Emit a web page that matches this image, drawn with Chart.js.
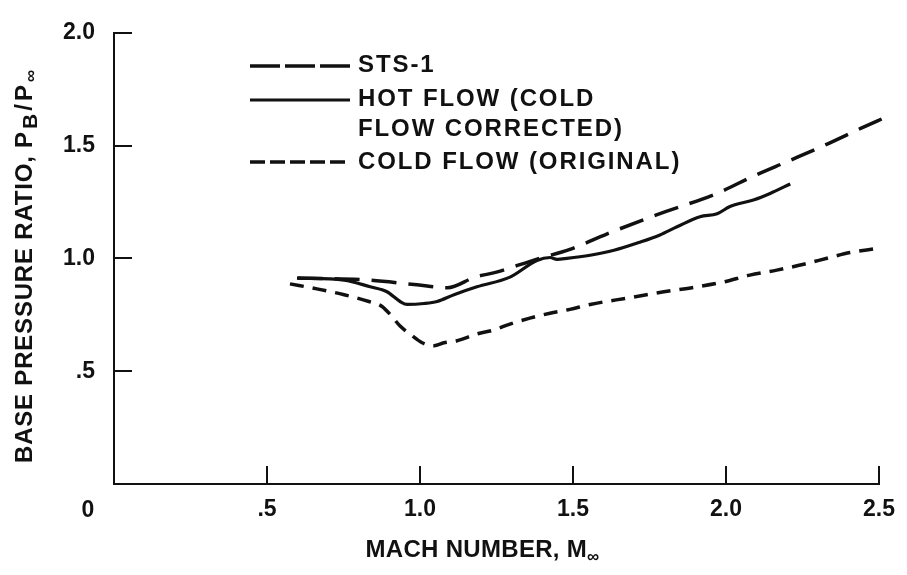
<!DOCTYPE html>
<html>
<head>
<meta charset="utf-8">
<script src="https://cdn.jsdelivr.net/npm/chart.js@4.4.1/dist/chart.umd.min.js"></script>
<style>
  html, body { margin: 0; padding: 0; background: #ffffff; }
  #wrap { width: 907px; height: 575px; position: relative; }
</style>
</head>
<body>
<div id="wrap"><canvas id="c" width="907" height="575"></canvas></div>
<script>
// Base pressure ratio vs. free-stream Mach number
const machSts1  = [0.60, 0.83, 0.99, 1.09, 1.18, 1.25, 1.38, 1.49, 1.61, 1.775, 1.97, 2.09, 2.205, 2.32, 2.44, 2.52];
const ratioSts1 = [0.913, 0.904, 0.883, 0.870, 0.917, 0.939, 0.996, 1.04, 1.108, 1.194, 1.288, 1.365, 1.432, 1.50, 1.576, 1.625];

const machHot  = [0.598, 0.752, 0.837, 0.892, 0.935, 0.958, 1.013, 1.056, 1.111, 1.186, 1.294, 1.382, 1.425, 1.448, 1.48, 1.556, 1.634, 1.719, 1.784, 1.84, 1.915, 1.971, 2.013, 2.092, 2.144, 2.21];
const ratioHot = [0.913, 0.904, 0.874, 0.852, 0.809, 0.796, 0.800, 0.809, 0.839, 0.874, 0.917, 0.991, 1.004, 0.996, 1.000, 1.014, 1.036, 1.072, 1.104, 1.14, 1.185, 1.198, 1.23, 1.26, 1.288, 1.33];

const machCold  = [0.575, 0.663, 0.752, 0.833, 0.876, 0.908, 0.935, 0.967, 1.007, 1.046, 1.078, 1.121, 1.186, 1.242, 1.294, 1.359, 1.425, 1.490, 1.556, 1.686, 1.797, 1.905, 1.993, 2.078, 2.166, 2.254, 2.339, 2.405, 2.487];
const ratioCold = [0.887, 0.865, 0.839, 0.809, 0.787, 0.743, 0.700, 0.665, 0.626, 0.613, 0.626, 0.635, 0.665, 0.683, 0.709, 0.735, 0.757, 0.774, 0.796, 0.826, 0.852, 0.874, 0.896, 0.926, 0.948, 0.974, 1.004, 1.026, 1.043];

const xTickValues = [0, 0.5, 1.0, 1.5, 2.0, 2.5];
const xTickLabels = ['0', '.5', '1.0', '1.5', '2.0', '2.5'];
const yTickValues = [0, 0.5, 1.0, 1.5, 2.0];
const yTickLabels = ['', '.5', '1.0', '1.5', '2.0'];

const seriesNames = [['STS-1'], ['HOT FLOW (COLD', 'FLOW CORRECTED)'], ['COLD FLOW (ORIGINAL)']];

const INK = '#111111';
const FONT = '"Liberation Sans", Arial, Helvetica, sans-serif';
const WEIGHT = 'bold';

function pairs(xs, ys) { return xs.map((x, i) => ({ x: x, y: ys[i] })); }

const dashSts = [25, 12];
const dashCold = [14, 9];

// draws a run of text pieces (with optional subscripts) starting at x,y (baseline middle)
function drawRuns(ctx, runs, x, y, spacing) {
  ctx.save();
  ctx.textBaseline = 'middle';
  ctx.textAlign = 'left';
  let cx = x;
  runs.forEach(r => {
    ctx.letterSpacing = (r.ls !== undefined ? r.ls : spacing) + 'px';
    ctx.font = WEIGHT + ' ' + r.size + 'px ' + FONT;
    ctx.fillText(r.text, cx, y + (r.dy || 0));
    cx += ctx.measureText(r.text).width;
  });
  ctx.restore();
  return cx - x;
}
function runsWidth(ctx, runs, spacing) {
  ctx.save();
  let w = 0;
  runs.forEach(r => {
    ctx.letterSpacing = (r.ls !== undefined ? r.ls : spacing) + 'px';
    ctx.font = WEIGHT + ' ' + r.size + 'px ' + FONT;
    w += ctx.measureText(r.text).width;
  });
  ctx.restore();
  return w;
}

const decorPlugin = {
  id: 'decor',
  afterDraw(chart) {
    const ctx = chart.ctx;
    const xs = chart.scales.x, ys = chart.scales.y;
    const area = chart.chartArea;
    ctx.save();
    ctx.strokeStyle = INK;
    ctx.fillStyle = INK;
    ctx.lineWidth = 2;
    ctx.lineCap = 'butt';
    // inward tick marks
    const TL = 18;
    xTickValues.forEach(v => {
      if (v === 0) return;
      const px = Math.round(xs.getPixelForValue(v));
      ctx.beginPath(); ctx.moveTo(px, area.bottom); ctx.lineTo(px, area.bottom - TL); ctx.stroke();
    });
    yTickValues.forEach(v => {
      if (v === 0) return;
      const py = Math.round(ys.getPixelForValue(v));
      ctx.beginPath(); ctx.moveTo(area.left, py); ctx.lineTo(area.left + TL, py); ctx.stroke();
    });

    // shared origin label
    ctx.font = WEIGHT + ' 23px ' + FONT;
    ctx.textAlign = 'center';
    ctx.textBaseline = 'middle';
    ctx.fillText(xTickLabels[0], xs.getPixelForValue(0) - 26, area.bottom + 27);

    // x-axis title
    const xRuns = [
      { text: 'MACH NUMBER, M', size: 24 },
      { text: '\u221E', size: 17, dy: 7 }
    ];
    const xw = runsWidth(ctx, xRuns, 0.3);
    drawRuns(ctx, xRuns, (area.left + area.right) / 2 - xw / 2 - 14, 550, 0.3);

    // y-axis title (rotated)
    ctx.save();
    ctx.translate(25, 463);
    ctx.rotate(-Math.PI / 2);
    drawRuns(ctx, [
      { text: 'BASE PRESSURE RATIO, ', size: 24, ls: 0.8 },
      { text: 'P', size: 24, ls: 3 },
      { text: 'B', size: 21, dy: 6, ls: 3 },
      { text: '/P', size: 24, ls: 3 },
      { text: '\u221E', size: 17, dy: 6, ls: 1 }
    ], 0, 0, 0.8);
    ctx.restore();

    // key
    const keyX0 = 250, keyX1 = 350, textX = 358;
    const rows = [
      { y: 66, dash: [30, 5], width: 3.5 },
      { y: 100, dash: [], width: 3.2 },
      { y: 162, dash: [15, 5], width: 3.5 }
    ];
    const textRows = [[65], [99, 129], [162]];
    rows.forEach((r, i) => {
      ctx.save();
      ctx.lineWidth = r.width;
      ctx.setLineDash(r.dash);
      ctx.beginPath(); ctx.moveTo(keyX0, r.y); ctx.lineTo(keyX1, r.y); ctx.stroke();
      ctx.restore();
      seriesNames[i].forEach((line, j) => {
        drawRuns(ctx, [{ text: line, size: 24 }], textX, textRows[i][j], 1.9);
      });
    });
    ctx.restore();
  }
};

new Chart(document.getElementById('c'), {
  type: 'line',
  data: {
    datasets: [
      { label: seriesNames[0].join(' '), data: pairs(machSts1, ratioSts1), borderDash: dashSts, borderWidth: 3.5 },
      { label: seriesNames[1].join(' '), data: pairs(machHot, ratioHot), borderDash: [], borderWidth: 3.2 },
      { label: seriesNames[2].join(' '), data: pairs(machCold, ratioCold), borderDash: dashCold, borderWidth: 3.5 }
    ].map(d => Object.assign({
      borderColor: INK,
      pointRadius: 0,
      fill: false,
      clip: false,
      cubicInterpolationMode: 'monotone',
      borderCapStyle: 'butt'
    }, d))
  },
  options: {
    responsive: false,
    animation: false,
    devicePixelRatio: 1,
    layout: { padding: { top: 28, right: 24, left: 0, bottom: 0 } },
    plugins: { legend: { display: false }, tooltip: { enabled: false }, title: { display: false } },
    scales: {
      x: {
        type: 'linear', min: 0, max: 2.5,
        afterBuildTicks: s => { s.ticks = xTickValues.map(v => ({ value: v })); },
        afterFit: s => { s.height = 91; },
        ticks: {
          color: INK, padding: 12,
          font: { family: FONT, size: 23, weight: WEIGHT },
          callback: (v) => { const i = xTickValues.indexOf(v); return i > 0 ? xTickLabels[i] : ''; },
          maxRotation: 0, autoSkip: false
        },
        grid: { display: true, drawOnChartArea: false, drawTicks: false },
        border: { display: true, color: INK, width: 2 }
      },
      y: {
        type: 'linear', min: 0, max: 2.0,
        afterBuildTicks: s => { s.ticks = yTickValues.map(v => ({ value: v })); },
        afterFit: s => { s.width = 114; },
        ticks: {
          color: INK, padding: 19,
          font: { family: FONT, size: 23, weight: WEIGHT },
          callback: (v) => { const i = yTickValues.indexOf(v); return i >= 0 ? yTickLabels[i] : ''; },
          autoSkip: false
        },
        grid: { display: true, drawOnChartArea: false, drawTicks: false },
        border: { display: true, color: INK, width: 2 }
      }
    }
  },
  plugins: [decorPlugin]
});
</script>
</body>
</html>
